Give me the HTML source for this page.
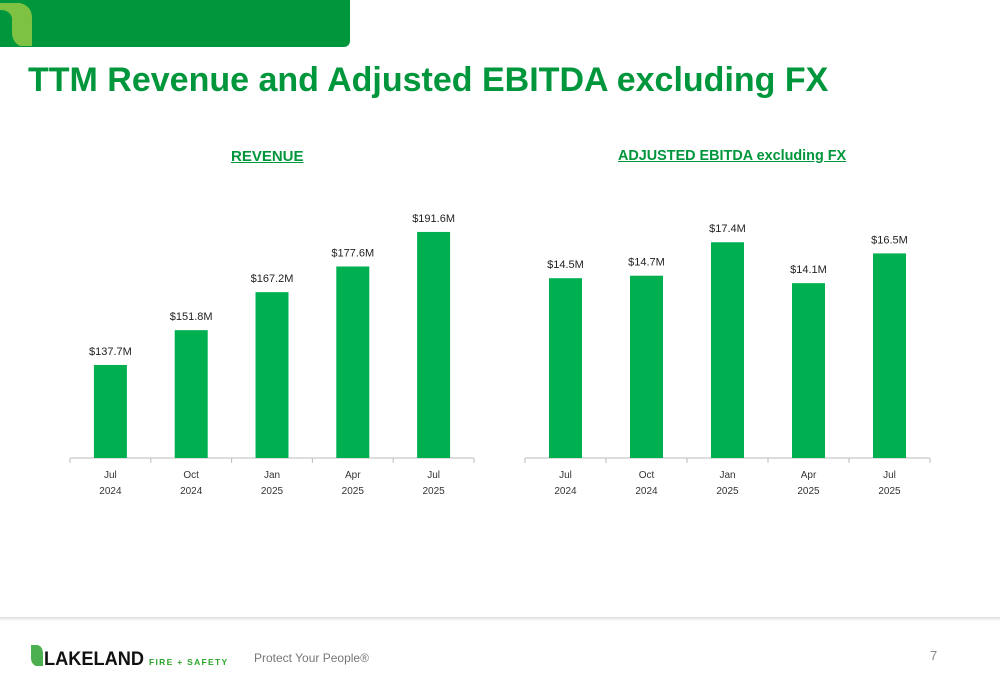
<!DOCTYPE html>
<html><head><meta charset="utf-8"><style>
body{margin:0;width:1000px;height:685px;position:relative;background:#fff;font-family:"Liberation Sans",sans-serif;overflow:hidden}
.topbar{position:absolute;left:0;top:0;width:350px;height:47px;background:#00963c;border-bottom-right-radius:6px}
.title{position:absolute;left:28px;top:61px;font-size:34px;font-weight:bold;color:#00963c;white-space:nowrap}
.sub{position:absolute;top:148px;font-size:15px;font-weight:bold;color:#00963c;text-decoration:underline;white-space:nowrap}
.foot{position:absolute;left:0;top:617px;width:1000px;height:4px;background:linear-gradient(#ddd,#fff)}
</style></head><body>
<div class="topbar"></div>
<svg style="position:absolute;left:0;top:0" width="40" height="48"><path d="M0 3 H20 Q32 6 32 18 V46 H20 Q12 42 12 32 V18 Q10 10 0 10 Z" fill="#7dc242"/></svg>
<div class="title">TTM Revenue and Adjusted EBITDA excluding FX</div>
<div class="sub" style="left:231px">REVENUE</div>
<div class="sub" style="left:618px;font-size:14.4px">ADJUSTED EBITDA excluding FX</div>
<svg id="c" width="1000" height="685" style="position:absolute;left:0;top:0"></svg>
<div class="foot"></div>
<svg style="position:absolute;left:30px;top:644px" width="118" height="24">
<path d="M1 1 H8 Q13 3 13 10 V22 H6 Q1 20 1 14Z" fill="#4caf50"/>
<text x="14" y="21" font-size="19" font-weight="bold" fill="#111" font-family="Liberation Sans" textLength="100" lengthAdjust="spacingAndGlyphs">LAKELAND</text></svg>
<div style="position:absolute;left:149px;top:657px;font-size:8.5px;color:#2aa52a;font-weight:bold;letter-spacing:1.3px">FIRE + SAFETY</div>
<div style="position:absolute;left:254px;top:651px;font-size:12px;color:#777">Protect Your People®</div>
<div style="position:absolute;left:930px;top:648px;font-size:13px;color:#888">7</div>
<script>
const months=["Jul","Oct","Jan","Apr","Jul"];
const years=["2024","2024","2025","2025","2025"];
const revenue=[137.7,151.8,167.2,177.6,191.6];
const ebitda=[14.5,14.7,17.4,14.1,16.5];
const svg=document.getElementById('c');
const NS="http://www.w3.org/2000/svg";
function el(t,a){const e=document.createElementNS(NS,t);for(const k in a)e.setAttribute(k,a[k]);svg.appendChild(e);return e;}
function chart(name,vals,x0,x1,vmin,ppu){
  const base=458,n=vals.length,step=(x1-x0)/n;
  const ax=el('line',{x1:x0,x2:x1,y1:base,y2:base,stroke:'#bbb','stroke-width':1});
  
  
  for(let i=0;i<=n;i++){el('line',{x1:x0+i*step,x2:x0+i*step,y1:base,y2:base+5,stroke:'#bbb'});}
  vals.forEach((v,i)=>{
    const cx=x0+step*(i+0.5),h=(v-vmin)*ppu;
    const r=el('rect',{x:cx-16.5,y:base-h,width:33,height:h,fill:'#00b050'});
    
    
    const t=el('text',{x:cx,y:base-h-10,'text-anchor':'middle','font-size':11,fill:'#222'});
    t.textContent='$'+v.toFixed(1)+'M';
    
    
    const m=el('text',{x:cx,y:478,'text-anchor':'middle','font-size':10,fill:'#333'});m.textContent=months[i];
    
    
    const y=el('text',{x:cx,y:494,'text-anchor':'middle','font-size':10,fill:'#333'});y.textContent=years[i];
    
    
  });
}
chart('revenue',revenue,70,474,100,2.468);
chart('ebitda',ebitda,525,930,0,12.4);
</script>
</body></html>
